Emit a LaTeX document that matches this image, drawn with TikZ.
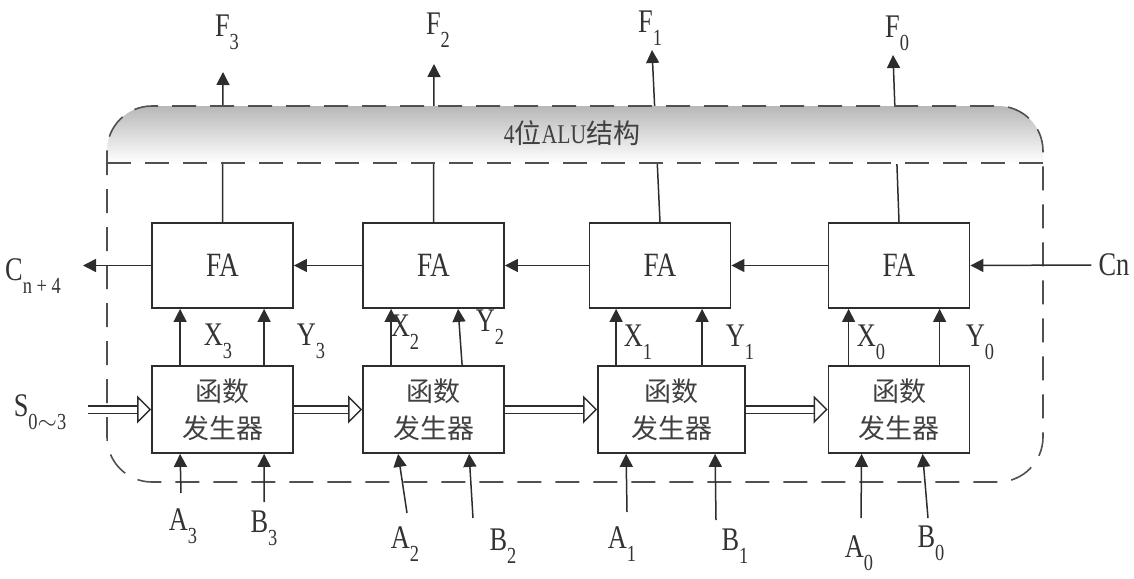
\documentclass[tikz,border=0pt]{standalone}
\usepackage{fontspec}
\setmainfont[FakeStretch=0.8]{Liberation Serif}
\newfontfamily\cjk{Noto Sans CJK SC}
\usetikzlibrary{arrows.meta,positioning,calc}

\definecolor{linegray}{RGB}{45,45,45}
\definecolor{dashgray}{RGB}{80,80,80}
\newcommand{\sub}[1]{\raisebox{-0.4em}{\fontsize{23}{23}\selectfont #1}}

\tikzset{
  fabox/.style={draw=linegray, line width=1.8pt, minimum width=141pt, minimum height=85pt,
    font=\fontsize{34}{34}\selectfont, text=black!80},
  genbox/.style={draw=linegray, line width=1.8pt, minimum width=141pt, minimum height=87pt,
    align=center, font=\cjk\fontsize{27}{37}\selectfont, text=black!75},
  sig/.style={draw=linegray, line width=1.5pt, -{Triangle[length=13pt,width=13pt]}},
  bus/.style={draw=linegray, double=white, double distance=6pt, line width=1.3pt,
    -{Triangle[open, fill=white, length=14pt, width=28pt, line width=1.4pt 0]}},
  frame/.style={draw=dashgray, line width=1.6pt, dash pattern=on 24pt off 14pt},
  lab/.style={inner sep=0pt, font=\fontsize{33}{33}\selectfont, text=black!80},
}

\begin{document}
\begin{tikzpicture}[x=1pt,y=-1pt]
\useasboundingbox (0,0) rectangle (1134,578);

% full adders, bit 3 on the left
\node[fabox] (fa3) at (222.5,265.5) {FA};
\node[fabox] (fa2) at (433.5,265.5) {FA};
\node[fabox] (fa1) at (660,265.5) {FA};
\node[fabox] (fa0) at (899,265.5) {FA};

% function generators
\node[genbox] (gen3) at (222.5,409.5) {函数\\发生器};
\node[genbox] (gen2) at (433.5,409.5) {函数\\发生器};
\node[genbox, minimum width=147pt] (gen1) at (671.5,409.5) {函数\\发生器};
\node[genbox] (gen0) at (899,409.5) {函数\\发生器};

% outputs F
\coordinate (f3) at (223,72);
\coordinate (f2) at (434,64);
\coordinate (f1) at (652,50);
\coordinate (f0) at (893,55);
\draw[sig] (fa3.north) -- (f3);
\draw[sig] (fa2.north) -- (f2);
\draw[sig] (fa1.north) -- (f1);
\draw[sig] (fa0.north) -- (f0);
\node[lab] (F3) at (227,32) {F\sub{3}};
\node[lab] (F2) at (438,30) {F\sub{2}};
\node[lab] (F1) at (650,28) {F\sub{1}};
\node[lab] (F0) at (897,33) {F\sub{0}};

% outer frame with shaded title band
\begin{scope}
  \clip[rounded corners=45pt] (107,106) rectangle (1043,482);
  \shade[top color=black!28, bottom color=white] (107,106) rectangle (1043,163);
\end{scope}
\draw[frame, rounded corners=45pt] (107,106) rectangle (1043,482);
\draw[frame] (107,163) -- (1043,163);
\node[font=\fontsize{27}{27}\selectfont, text=black!75] (title) at (572,133) {4{\cjk 位}ALU{\cjk 结构}};

% carry chain
\coordinate (cout) at (83,265.5);
\node[lab] (cin) at (1114,265) {Cn};
\node[lab] (coutl) at (33,276) {C\sub{n + 4}};
\draw[sig] ([xshift=-7pt]cin.west) -- (fa0.east);
\draw[sig] (fa0.west) -- (fa1.east);
\draw[sig] (fa1.west) -- (fa2.east);
\draw[sig] (fa2.west) -- (fa3.east);
\draw[sig] (fa3.west) -- (cout);

% function select bus
\coordinate (sin) at (88,409.5);
\node[lab] (sl) at (40,412) {S\sub{0$\sim$3}};
\draw[bus] (sin) -- (gen3.west);
\draw[bus] (gen3.east) -- (gen2.west);
\draw[bus] (gen2.east) -- (gen1.west);
\draw[bus] (gen1.east) -- (gen0.west);

% X and Y
\draw[sig] ($(gen3.north west)+(29,0)$) -- ($(fa3.south west)+(29,0)$);
\draw[sig] ($(gen3.north west)+(113,0)$) -- ($(fa3.south west)+(113,0)$);
\draw[sig] ($(gen2.north west)+(29,0)$) -- ($(fa2.south west)+(29,0)$);
\draw[sig] ($(gen2.north west)+(100,0)$) -- ($(fa2.south west)+(96,0)$);
\draw[sig] ($(gen1.north west)+(19,0)$) -- ($(fa1.south west)+(27.5,0)$);
\draw[sig] ($(gen1.north west)+(105,0)$) -- ($(fa1.south west)+(113.5,0)$);
\draw[sig] ($(gen0.north west)+(21,0)$) -- ($(fa0.south west)+(21,0)$);
\draw[sig] ($(gen0.north west)+(112,0)$) -- ($(fa0.south west)+(112,0)$);
\node[lab] (x3) at (218,341) {X\sub{3}};
\node[lab] (y3) at (311,341) {Y\sub{3}};
\node[lab] (x2) at (405,332) {X\sub{2}};
\node[lab] (y2) at (490,327) {Y\sub{2}};
\node[lab] (x1) at (638,342) {X\sub{1}};
\node[lab] (y1) at (740,342) {Y\sub{1}};
\node[lab] (x0) at (871,342) {X\sub{0}};
\node[lab] (y0) at (980,342) {Y\sub{0}};

% operands A and B
\coordinate (ta3) at (181,493);
\coordinate (tb3) at (264,502);
\coordinate (ta2) at (407,513);
\coordinate (tb2) at (473,518);
\coordinate (ta1) at (627,512);
\coordinate (tb1) at (716,520);
\coordinate (ta0) at (861,518);
\coordinate (tb0) at (928,518);
\draw[sig] (ta3) -- ($(gen3.south west)+(29,0)$);
\draw[sig] (tb3) -- ($(gen3.south west)+(113,0)$);
\draw[sig] (ta2) -- ($(gen2.south west)+(36,0)$);
\draw[sig] (tb2) -- ($(gen2.south west)+(107,0)$);
\draw[sig] (ta1) -- ($(gen1.south west)+(29,0)$);
\draw[sig] (tb1) -- ($(gen1.south west)+(118,0)$);
\draw[sig] (ta0) -- ($(gen0.south west)+(34,0)$);
\draw[sig] (tb0) -- ($(gen0.south west)+(95,0)$);
\node[lab] (a3) at (183,526) {A\sub{3}};
\node[lab] (b3) at (264,528) {B\sub{3}};
\node[lab] (a2) at (405,544) {A\sub{2}};
\node[lab] (b2) at (503,546) {B\sub{2}};
\node[lab] (a1) at (622,544) {A\sub{1}};
\node[lab] (b1) at (735,546) {B\sub{1}};
\node[lab] (a0) at (859,553) {A\sub{0}};
\node[lab] (b0) at (931,543) {B\sub{0}};
\end{tikzpicture}
\end{document}
